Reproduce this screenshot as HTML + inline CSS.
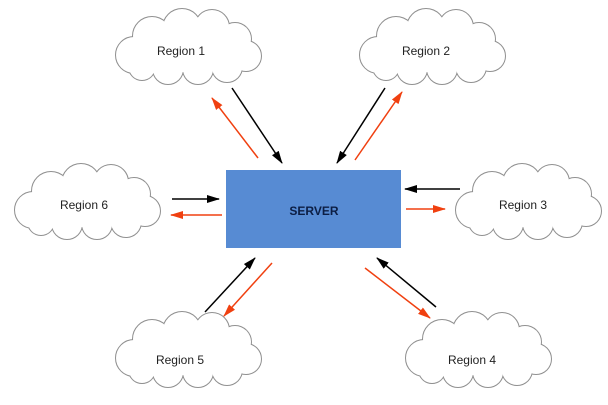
<!DOCTYPE html>
<html><head><style>
html,body{margin:0;padding:0;background:#fff;}
svg{display:block;}
text{font-family:"Liberation Sans",sans-serif;}
</style></head><body>
<svg width="608" height="405" viewBox="0 0 608 405" xmlns="http://www.w3.org/2000/svg">
<defs>
<g id="cs">
<circle cx="22" cy="45" r="18"/><circle cx="40" cy="26" r="19"/><circle cx="70" cy="18" r="19"/>
<circle cx="100" cy="17" r="17"/><circle cx="123" cy="29" r="16"/><circle cx="134" cy="46" r="15"/>
<circle cx="115" cy="57" r="15"/><circle cx="86" cy="59" r="15"/><circle cx="56" cy="59" r="15"/>
<circle cx="30" cy="57" r="13"/><ellipse cx="75" cy="40" rx="56" ry="22"/>
</g>
<g id="cloud">
<use href="#cs" fill="none" stroke="#909090" stroke-width="2"/>
<use href="#cs" fill="#fff" stroke="none"/>
</g>
<marker id="ab" markerWidth="13" markerHeight="8" refX="12" refY="4" orient="auto" markerUnits="userSpaceOnUse"><path d="M0,0 L13,4 L0,8 Z" fill="#000"/></marker>
<marker id="ar" markerWidth="13" markerHeight="8" refX="12" refY="4" orient="auto" markerUnits="userSpaceOnUse"><path d="M0,0 L13,4 L0,8 Z" fill="#f04010"/></marker>
</defs>
<g transform="translate(112,10)"><use href="#cloud"/></g>
<g transform="translate(356,10)"><use href="#cloud"/></g>
<g transform="translate(452,165)"><use href="#cloud"/></g>
<g transform="translate(11,165)"><use href="#cloud"/></g>
<g transform="translate(112,313)"><use href="#cloud"/></g>
<g transform="translate(402,313)"><use href="#cloud"/></g>
<g font-size="12" fill="#222" text-anchor="middle">
<text x="181" y="55">Region 1</text>
<text x="426" y="55">Region 2</text>
<text x="523" y="209">Region 3</text>
<text x="84" y="209">Region 6</text>
<text x="180" y="364">Region 5</text>
<text x="472" y="364">Region 4</text>
</g>
<rect x="226" y="170" width="175" height="78" fill="#578bd3"/>
<text x="314" y="215" font-size="12" font-weight="bold" fill="#0c1e44" text-anchor="middle">SERVER</text>
<g stroke-width="1.5">
<line x1="232" y1="88" x2="282" y2="163" stroke="#000" marker-end="url(#ab)"/>
<line x1="258" y1="158" x2="212" y2="98" stroke="#f04010" marker-end="url(#ar)"/>
<line x1="385" y1="88" x2="337" y2="163" stroke="#000" marker-end="url(#ab)"/>
<line x1="355" y1="160" x2="402" y2="92" stroke="#f04010" marker-end="url(#ar)"/>
<line x1="172" y1="199" x2="219" y2="199" stroke="#000" marker-end="url(#ab)"/>
<line x1="222" y1="215" x2="171" y2="215" stroke="#f04010" marker-end="url(#ar)"/>
<line x1="460" y1="189" x2="405" y2="189" stroke="#000" marker-end="url(#ab)"/>
<line x1="406" y1="209" x2="445" y2="209" stroke="#f04010" marker-end="url(#ar)"/>
<line x1="205" y1="312" x2="255" y2="258" stroke="#000" marker-end="url(#ab)"/>
<line x1="272" y1="263" x2="224" y2="316" stroke="#f04010" marker-end="url(#ar)"/>
<line x1="436" y1="307" x2="377" y2="258" stroke="#000" marker-end="url(#ab)"/>
<line x1="365" y1="268" x2="430" y2="318" stroke="#f04010" marker-end="url(#ar)"/>
</g>
</svg>
</body></html>
